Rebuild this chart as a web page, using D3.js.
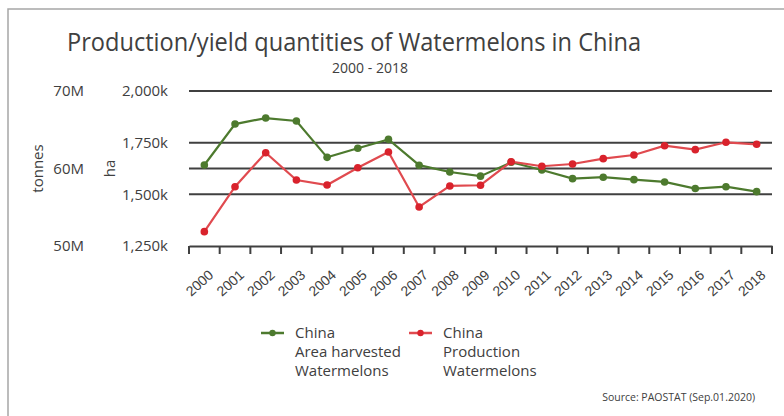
<!DOCTYPE html>
<html>
<head>
<meta charset="utf-8">
<script src="https://cdn.jsdelivr.net/npm/d3@7/dist/d3.min.js"></script>
<style>
  html, body { margin: 0; padding: 0; background: #fff; }
  svg { display: block; font-family: "Open Sans", "Noto Sans", sans-serif; }
</style>
</head>
<body>
<div id="chart"></div>
<script>
// ---------- data ----------
const years = ["2000","2001","2002","2003","2004","2005","2006","2007","2008","2009",
               "2010","2011","2012","2013","2014","2015","2016","2017","2018"];
// area harvested, ha (thousands)
const areaHa = [1642, 1840, 1869, 1855, 1679, 1723, 1766, 1641, 1608, 1588,
                1655, 1618, 1576, 1583, 1571, 1560, 1528, 1537, 1513];
// production, tonnes (millions)
const prodT = [51.85, 57.65, 62.04, 58.52, 57.87, 60.10, 62.13, 55.04, 57.75, 57.84,
               60.88, 60.29, 60.58, 61.27, 61.74, 62.94, 62.43, 63.38, 63.12];
const haTicks = [1250, 1500, 1750, 2000];
const tTicks = [50, 60, 70];

const W = 784, H = 416;
const m = { top: 91, right: 12, bottom: 170, left: 189 };
const innerW = W - m.left - m.right;
const innerH = H - m.top - m.bottom;

const green = "#4d7a2e", red = "#d9222c", redLine = "#e04a4f";
const ink = "#404040";

const svg = d3.select("#chart").append("svg").attr("width", W).attr("height", H);

// frame (only top + left edges visible)
svg.append("path")
  .attr("d", `M8,${H} V9 H${W}`)
  .attr("fill", "none").attr("stroke", "#a6a6a6").attr("stroke-width", 1.5);

// titles
svg.append("text").attr("x", 67).attr("y", 51)
  .attr("font-size", 26).attr("fill", ink)
  .attr("textLength", 574).attr("lengthAdjust", "spacingAndGlyphs")
  .text("Production/yield quantities of Watermelons in China");
svg.append("text").attr("x", 370).attr("y", 73)
  .attr("text-anchor", "middle").attr("font-size", 14).attr("fill", ink)
  .text("2000 - 2018");

const g = svg.append("g").attr("transform", `translate(${m.left},${m.top})`);

const x = d3.scaleBand().domain(years).range([0, innerW]);
const cx = d => x(d) + x.bandwidth() / 2;
const yHa = d3.scaleLinear().domain([1250, 2000]).range([innerH, 0]);
const yT = d3.scaleLinear().domain([50, 70]).range([innerH, 0]);

// gridlines: ha ticks (except bottom) and 60M
const grid = haTicks.filter(v => v > 1250).map(v => yHa(v)).concat([yT(60)]);
g.append("g").selectAll("line").data(grid).enter().append("line")
  .attr("x1", 0).attr("x2", innerW)
  .attr("y1", d => d).attr("y2", d => d)
  .attr("stroke", ink).attr("stroke-width", 2);

// bottom axis
const xAxis = g.append("g").attr("transform", `translate(0,${innerH})`)
  .call(d3.axisBottom(x).tickSizeInner(0).tickSizeOuter(0));
xAxis.select(".domain").attr("stroke", ink).attr("stroke-width", 2);
xAxis.selectAll(".tick text")
  .attr("font-size", 14).attr("fill", ink)
  .attr("text-anchor", "end")
  .attr("dx", 0).attr("dy", 0)
  .attr("transform", "translate(8,28) rotate(-42)");
// band boundary tick marks
g.append("g").selectAll("line").data(d3.range(years.length + 1)).enter().append("line")
  .attr("x1", i => i * x.step()).attr("x2", i => i * x.step())
  .attr("y1", innerH).attr("y2", innerH + 8)
  .attr("stroke", ink).attr("stroke-width", 2);

// left axes labels
svg.append("g").selectAll("text").data(haTicks).enter().append("text")
  .attr("x", 168).attr("y", d => m.top + yHa(d)).attr("dy", "0.35em")
  .attr("text-anchor", "end").attr("font-size", 15).attr("fill", ink)
  .text(d => d3.format(",")(d) + "k");
svg.append("g").selectAll("text").data(tTicks).enter().append("text")
  .attr("x", 84).attr("y", d => m.top + yT(d)).attr("dy", "0.35em")
  .attr("text-anchor", "end").attr("font-size", 15).attr("fill", ink)
  .text(d => d + "M");
svg.append("text").attr("transform", `translate(43,${m.top + innerH / 2}) rotate(-90)`)
  .attr("text-anchor", "middle").attr("font-size", 15).attr("fill", ink).text("tonnes");
svg.append("text").attr("transform", `translate(115,${m.top + innerH / 2}) rotate(-90)`)
  .attr("text-anchor", "middle").attr("font-size", 15).attr("fill", ink).text("ha");

// series
function drawSeries(vals, yScale, lineColor, dotColor) {
  const pts = years.map((yr, i) => [cx(yr), yScale(vals[i])]);
  g.append("path").datum(pts)
    .attr("fill", "none").attr("stroke", lineColor).attr("stroke-width", 2.2)
    .attr("d", d3.line());
  g.append("g").attr("fill", dotColor).selectAll("circle").data(pts).enter().append("circle")
    .attr("cx", d => d[0]).attr("cy", d => d[1]).attr("r", 3.8);
}
drawSeries(areaHa, yHa, green, green);
drawSeries(prodT, yT, redLine, red);

// legend
const legend = [
  { x: 261, color: green, dot: green, lines: ["China", "Area harvested", "Watermelons"] },
  { x: 409, color: redLine, dot: red, lines: ["China", "Production", "Watermelons"] }
];
const lg = svg.append("g").selectAll("g").data(legend).enter().append("g")
  .attr("transform", d => `translate(${d.x},333)`);
lg.append("line").attr("x1", 0).attr("x2", 23).attr("y1", 0).attr("y2", 0)
  .attr("stroke", d => d.color).attr("stroke-width", 2.5);
lg.append("circle").attr("cx", 11.5).attr("cy", 0).attr("r", 3.2).attr("fill", d => d.dot);
lg.each(function (d) {
  d3.select(this).selectAll("text").data(d.lines).enter().append("text")
    .attr("x", 34).attr("y", (t, i) => i * 19).attr("dy", "0.35em")
    .attr("font-size", 15).attr("fill", ink).text(t => t);
});

// source
svg.append("text").attr("x", 755).attr("y", 397).attr("dy", "0.35em")
  .attr("text-anchor", "end").attr("font-size", 10.5).attr("fill", ink)
  .text("Source: PAOSTAT (Sep.01.2020)");
</script>
</body>
</html>
